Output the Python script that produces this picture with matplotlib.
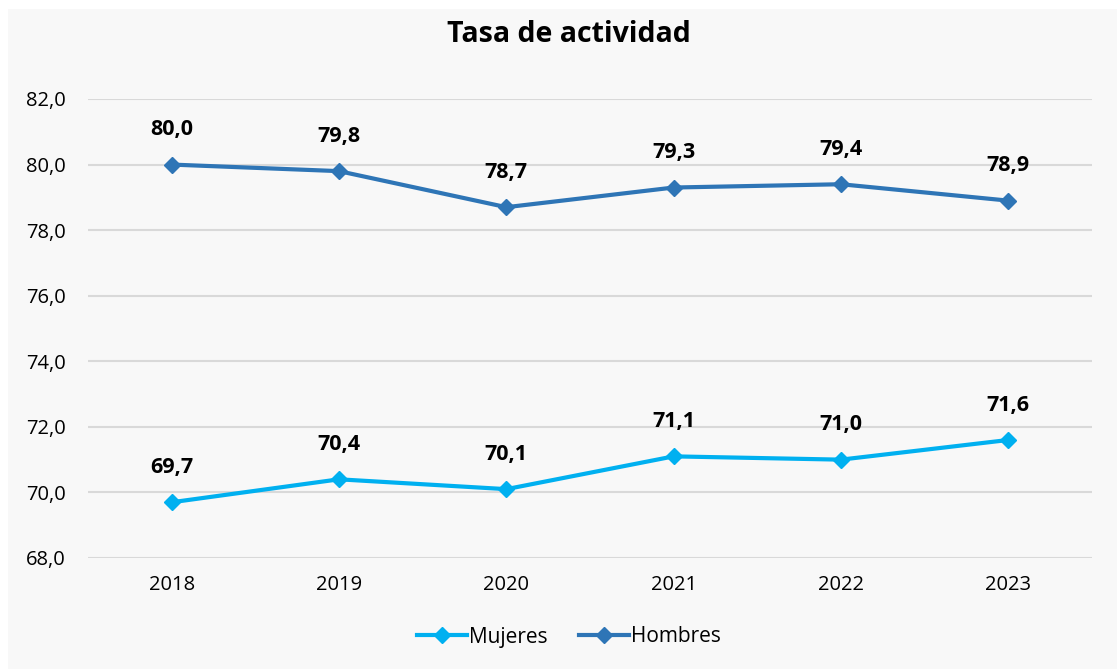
import matplotlib.pyplot as plt
from matplotlib.patches import Rectangle

plt.rcParams['font.family'] = ['Open Sans', 'DejaVu Sans']

anios = ['2018', '2019', '2020', '2021', '2022', '2023']
hombres = [80.0, 79.8, 78.7, 79.3, 79.4, 78.9]
mujeres = [69.7, 70.4, 70.1, 71.1, 71.0, 71.6]
yticks = [68, 70, 72, 74, 76, 78, 80, 82]

col_muj = '#00b0f0'
col_hom = '#2e75b6'
fondo = '#f8f8f8'

def fmt(v):
    return f"{v:.1f}".replace('.', ',')

fig = plt.figure(figsize=(11.17, 6.69), dpi=100)
fig.patch.set_facecolor('white')
fig.patches.append(Rectangle((8 / 1117, 0), 1, 1 - 9 / 669, transform=fig.transFigure,
                             facecolor=fondo, edgecolor='none', zorder=-10))

ax = fig.add_axes([88 / 1117, 1 - 558 / 669, (1092 - 88) / 1117, (558 - 99) / 669])
ax.set_facecolor(fondo)
x = list(range(len(anios)))

ax.plot(x, mujeres, color=col_muj, lw=3, marker='D', ms=8, label='Mujeres', zorder=3)
ax.plot(x, hombres, color=col_hom, lw=3, marker='D', ms=8, label='Hombres', zorder=3)

for serie in (hombres, mujeres):
    for xi, v in zip(x, serie):
        ax.annotate(fmt(v), (xi, v), xytext=(0, 25), textcoords='offset points',
                    ha='center', va='center', fontsize=15.5, fontweight='bold')

ax.set_xlim(-0.5, len(anios) - 0.5)
ax.set_ylim(68, 82)
ax.set_yticks(yticks)
ax.set_yticklabels([fmt(t) for t in yticks], fontsize=14.5)
ax.set_xticks(x)
ax.set_xticklabels(anios, fontsize=14.5)
ax.grid(axis='y', color='#d9d9d9', lw=1.5)
ax.set_axisbelow(True)
ax.tick_params(length=0)
ax.tick_params(axis='x', pad=12)
ax.tick_params(axis='y', pad=16)
for s in ax.spines.values():
    s.set_visible(False)

fig.text(569 / 1117, 1 - 35 / 669, 'Tasa de actividad', ha='center', va='center',
         fontsize=20.5, fontweight='bold')

fig.legend(loc='center', bbox_to_anchor=(569 / 1117, 1 - 637 / 669), ncol=2,
           frameon=False, fontsize=15, handlelength=2.4, columnspacing=1.5,
           handletextpad=0.1)

fig.savefig('out.png', dpi=100, facecolor=fig.get_facecolor())
